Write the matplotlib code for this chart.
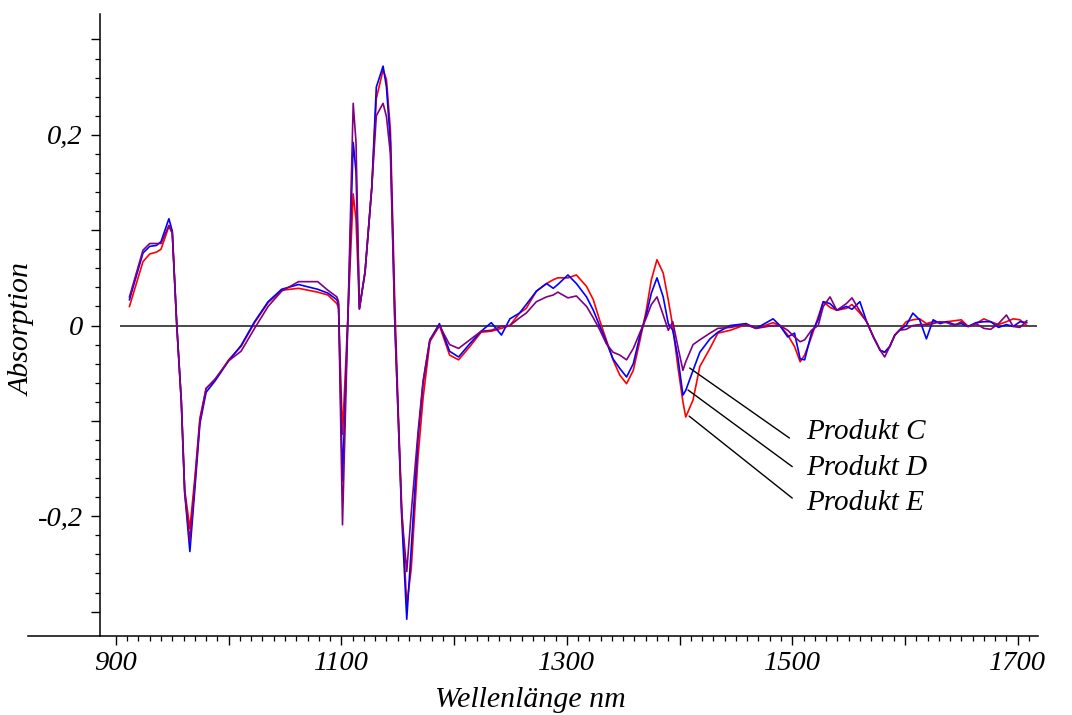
import matplotlib
matplotlib.use("Agg")
import matplotlib.pyplot as plt
from matplotlib.ticker import FixedLocator, FuncFormatter

plt.rcParams['font.family'] = ['Liberation Serif', 'DejaVu Serif']
plt.rcParams['font.style'] = 'italic'

# Wellenlängen (nm), gemeinsam für alle Spektren
wellenlaenge = [
    912, 924, 930, 936, 940, 947, 950, 954, 958, 961,
    965.6, 970, 974.5, 980, 988, 1000, 1011, 1023, 1035, 1047,
    1062, 1079, 1088, 1096, 1097.5, 1101, 1106, 1110.5, 1113, 1116,
    1121, 1127, 1131, 1137, 1140, 1143.5, 1147.5, 1150.5, 1153.5, 1158,
    1162, 1168, 1172.5, 1178.5, 1187, 1196, 1204, 1214, 1224, 1233,
    1242, 1249.5, 1258, 1264, 1273, 1282, 1288, 1292, 1301, 1308.5,
    1317.5, 1323.5, 1329, 1335, 1341, 1347, 1353, 1359, 1365, 1370.5,
    1375, 1380, 1385.5, 1390, 1394, 1398.5, 1403, 1405.5, 1412, 1418,
    1427, 1434, 1445, 1459, 1468, 1483, 1489, 1496, 1502, 1507,
    1511, 1517, 1523, 1527.5, 1533.5, 1539.5, 1548, 1553, 1560, 1566,
    1572, 1578, 1582, 1586.5, 1591, 1595, 1601, 1607, 1613, 1619,
    1625, 1631, 1637, 1644, 1650, 1656, 1663, 1670, 1676, 1683, 1690, 1696, 1702, 1708,
]

produkt_e = [  # rot
    0.020, 0.067, 0.075, 0.077, 0.080, 0.104, 0.097, 0.000, -0.078, -0.172,
    -0.213, -0.160, -0.097, -0.066, -0.057, -0.036, -0.022, 0.003, 0.024, 0.037,
    0.039, 0.035, 0.032, 0.023, 0.018, -0.114, 0.015, 0.138, 0.111, 0.018,
    0.056, 0.145, 0.238, 0.268, 0.258, 0.205, 0.020, -0.090, -0.190, -0.293,
    -0.255, -0.138, -0.076, -0.017, 0.000, -0.031, -0.036, -0.022, -0.007, -0.006,
    -0.003, 0.000, 0.013, 0.018, 0.036, 0.044, 0.048, 0.050, 0.050, 0.053,
    0.041, 0.027, 0.006, -0.015, -0.036, -0.052, -0.061, -0.047, -0.015, 0.016,
    0.048, 0.069, 0.055, 0.027, -0.001, -0.043, -0.080, -0.096, -0.078, -0.043,
    -0.024, -0.008, -0.005, 0.001, -0.003, 0.003, 0.000, -0.010, -0.022, -0.038,
    -0.031, -0.012, 0.009, 0.025, 0.019, 0.016, 0.018, 0.022, 0.013, 0.004,
    -0.012, -0.026, -0.028, -0.022, -0.010, -0.005, 0.004, 0.006, 0.007, 0.002,
    0.004, 0.003, 0.004, 0.005, 0.006, -0.001, 0.002, 0.007, 0.004, 0.001, 0.004, 0.007, 0.006, 0.000,
]

produkt_d = [  # blau
    0.027, 0.076, 0.083, 0.084, 0.088, 0.112, 0.099, 0.000, -0.080, -0.175,
    -0.237, -0.172, -0.103, -0.070, -0.058, -0.037, -0.021, 0.004, 0.025, 0.038,
    0.043, 0.038, 0.034, 0.027, 0.022, -0.163, 0.016, 0.192, 0.161, 0.018,
    0.056, 0.145, 0.250, 0.272, 0.250, 0.192, 0.000, -0.099, -0.200, -0.308,
    -0.234, -0.118, -0.060, -0.015, 0.002, -0.027, -0.033, -0.019, -0.006, 0.003,
    -0.010, 0.007, 0.013, 0.022, 0.036, 0.044, 0.039, 0.043, 0.053, 0.044,
    0.030, 0.016, 0.000, -0.017, -0.035, -0.045, -0.054, -0.040, -0.010, 0.011,
    0.034, 0.050, 0.030, 0.002, -0.005, -0.033, -0.073, -0.068, -0.047, -0.028,
    -0.014, -0.007, 0.000, 0.002, -0.003, 0.007, 0.000, -0.012, -0.008, -0.035,
    -0.036, -0.008, 0.006, 0.025, 0.023, 0.016, 0.020, 0.017, 0.025, 0.004,
    -0.012, -0.026, -0.028, -0.022, -0.010, -0.005, 0.000, 0.013, 0.006, -0.014,
    0.006, 0.002, 0.004, 0.001, 0.002, -0.001, 0.003, 0.004, 0.004, -0.002, 0.001, -0.001, 0.004, 0.003,
]

produkt_c = [  # violett
    0.030, 0.079, 0.086, 0.086, 0.086, 0.105, 0.097, 0.000, -0.080, -0.175,
    -0.226, -0.165, -0.100, -0.066, -0.056, -0.037, -0.027, -0.003, 0.020, 0.036,
    0.046, 0.046, 0.037, 0.030, 0.025, -0.209, 0.017, 0.233, 0.192, 0.017,
    0.056, 0.145, 0.220, 0.233, 0.219, 0.180, 0.000, -0.099, -0.196, -0.258,
    -0.196, -0.112, -0.058, -0.015, 0.000, -0.020, -0.024, -0.015, -0.006, -0.005,
    -0.001, 0.000, 0.008, 0.013, 0.025, 0.030, 0.032, 0.035, 0.029, 0.031,
    0.020, 0.008, -0.004, -0.019, -0.028, -0.031, -0.036, -0.024, -0.007, 0.008,
    0.022, 0.030, 0.011, -0.005, 0.004, -0.022, -0.047, -0.038, -0.020, -0.015,
    -0.008, -0.003, -0.002, 0.001, -0.003, 0.000, 0.000, -0.005, -0.012, -0.017,
    -0.015, -0.005, 0.000, 0.020, 0.030, 0.016, 0.023, 0.029, 0.015, 0.004,
    -0.012, -0.026, -0.033, -0.022, -0.010, -0.005, -0.004, 0.000, 0.001, 0.001,
    0.002, 0.004, 0.003, 0.000, 0.004, -0.001, 0.002, -0.003, -0.004, 0.002, 0.011, -0.001, -0.002, 0.005,
]

x_labels = [900, 1100, 1300, 1500, 1700]
y_labels = {-0.2: '-0,2', 0.0: '0', 0.2: '0,2'}

fig = plt.figure(figsize=(10.72, 7.15), dpi=100)
ax = fig.add_axes([28 / 1072, 79 / 715, 1010 / 1072, 622.5 / 715])

ax.hlines(0, 903.5, 1717, color='#3a3a3a', lw=1.3, zorder=1)
ax.plot(wellenlaenge, produkt_e, color='#ff0000', lw=1.2, zorder=2)
ax.plot(wellenlaenge, produkt_d, color='#0000ff', lw=1.2, zorder=3)
ax.plot(wellenlaenge, produkt_c, color='#800080', lw=1.2, zorder=4)

ax.set_xlim(822, 1718)
ax.set_ylim(-0.3256, 0.3272)

ax.spines['top'].set_visible(False)
ax.spines['right'].set_visible(False)
ax.spines['left'].set_position(('data', 886))
for s in ('left', 'bottom'):
    ax.spines[s].set_linewidth(1.1)

ax.xaxis.set_major_locator(FixedLocator(range(900, 1701, 100)))
ax.xaxis.set_minor_locator(FixedLocator([v for v in range(910, 1711, 10) if v % 100]))
ax.xaxis.set_major_formatter(FuncFormatter(lambda v, p: str(int(v)) if int(v) in x_labels else ''))
ax.yaxis.set_major_locator(FixedLocator([-0.3, -0.2, -0.1, 0.0, 0.1, 0.2, 0.3]))
ax.yaxis.set_minor_locator(FixedLocator([k * 0.02 for k in range(-15, 16) if k % 5]))
ax.yaxis.set_major_formatter(FuncFormatter(lambda v, p: y_labels.get(round(v, 1), '')))

ax.tick_params(which='major', direction='out', length=6.5, width=1.0, labelsize=20.5)
ax.tick_params(which='minor', direction='out', length=3.5, width=0.9)
ax.tick_params(axis='x', which='major', pad=4)
ax.tick_params(axis='y', which='major', pad=6)

fig.text(530 / 1072, 1 - 707 / 715, 'Wellenlänge nm', ha='center', va='baseline', fontsize=21.5)
fig.text(23 / 1072, 1 - 330 / 715, 'Absorption', ha='center', va='center', rotation=90, fontsize=21.5)

# Beschriftung der Spektren
beschriftung = [
    ('Produkt C', (1409, -0.0446), (1497.5, -0.118), -0.119),
    ('Produkt D', (1407.5, -0.0676), (1500, -0.148), -0.157),
    ('Produkt E', (1408.5, -0.095), (1500, -0.181), -0.1935),
]
for name, p0, p1, ty in beschriftung:
    ax.annotate('', xy=p0, xytext=p1,
                arrowprops=dict(arrowstyle='-', color='black', lw=1.0, shrinkA=0, shrinkB=0))
    ax.text(1512.6, ty, name, ha='left', va='baseline', fontsize=21)

fig.savefig('out.png', dpi=100)
